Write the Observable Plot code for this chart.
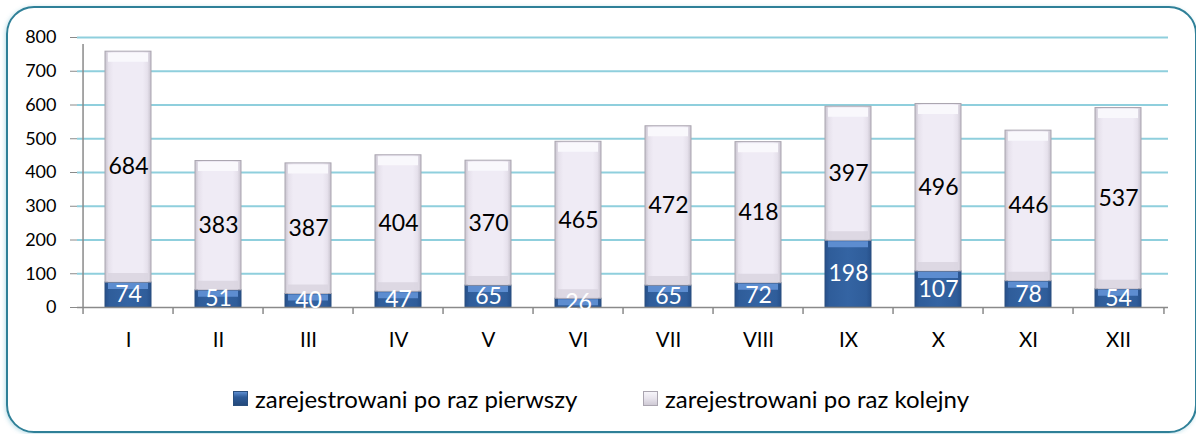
<!DOCTYPE html>
<html>
<head>
<meta charset="utf-8">
<script src="https://cdn.jsdelivr.net/npm/d3@7"></script>
<script src="https://cdn.jsdelivr.net/npm/@observablehq/plot@0.6"></script>
<style>
  html, body { margin: 0; padding: 0; background: #fff; }
  #wrap { position: relative; width: 1196px; height: 434px; overflow: hidden; font-family: Lato, "Open Sans", sans-serif; }
  #frame { position: absolute; left: 6px; top: 6px; width: 1191px; height: 427px; box-sizing: border-box;
           border: 2.5px solid #2f8098; border-radius: 28px; box-shadow: -1px 1px 4px rgba(60,160,190,0.35); }
  #chart { position: absolute; left: 0; top: 0; }
  #legend { position: absolute; top: 384px; left: 0; width: 1196px; height: 28px; }
  .item { position: absolute; top: 0; display: flex; align-items: center; font-size: 24px; color: #000; white-space: nowrap; }
  .sw { width: 15px; height: 15px; margin-right: 7px; box-sizing: border-box; }
</style>
</head>
<body>
<div id="wrap">
  <div id="frame"></div>
  <div id="chart"></div>
  <div id="legend"></div>
</div>
<script>
const months = ["I","II","III","IV","V","VI","VII","VIII","IX","X","XI","XII"];
const seriesNames = ["zarejestrowani po raz pierwszy", "zarejestrowani po raz kolejny"];
const firstTime = [74, 51, 40, 47, 65, 26, 65, 72, 198, 107, 78, 54];
const nextTime = [684, 383, 387, 404, 370, 465, 472, 418, 397, 496, 446, 537];
const yTicks = [0, 100, 200, 300, 400, 500, 600, 700, 800];

const table = [];
months.forEach((m, i) => {
  table.push({month: m, series: seriesNames[0], value: firstTime[i]});
  table.push({month: m, series: seriesNames[1], value: nextTime[i]});
});
const tops = months.map((m, i) => ({month: m, first: firstTime[i], total: firstTime[i] + nextTime[i]}));

const W = 1196, H = 360, mL = 77, mR = 28, mT = 37, mB = 53;
const step = (W - mL - mR) / months.length;

const plot = Plot.plot({
  width: W, height: H,
  marginLeft: mL, marginRight: mR, marginTop: mT, marginBottom: mB,
  style: {fontFamily: "Lato, 'Open Sans', sans-serif", background: "transparent", overflow: "visible"},
  x: {domain: months, paddingInner: 0.49, paddingOuter: 0.245},
  y: {domain: [0, 800]},
  color: {domain: seriesNames, range: ["url(#gBlue)", "url(#gLav)"]},
  marks: [
    Plot.ruleY(yTicks.filter(d => d > 0), {stroke: "#8fcfdd", strokeWidth: 2}),
    Plot.barY(table, Plot.stackY({x: "month", y: "value", fill: "series", order: seriesNames,
      stroke: d => d.series === seriesNames[0] ? "#2a4f7e" : "#aaa5b0", strokeWidth: 1})),
    // bevels
    Plot.tickY(tops, {x: "month", y: "total", stroke: "#f9f8fc", strokeWidth: 9, dy: 5.5, insetLeft: 3, insetRight: 3}),
    Plot.tickY(tops, {x: "month", y: "first", stroke: "#d8d3de", strokeWidth: 9, dy: -5, insetLeft: 3, insetRight: 3, strokeOpacity: 0.8}),
    Plot.tickY(tops, {x: "month", y: "first", stroke: "#5d8dd0", strokeWidth: 6, dy: 3.5, insetLeft: 3, insetRight: 3}),
    // axes lines
    Plot.ruleY([0], {stroke: "#8a8a8a", strokeWidth: 1.5}),
    Plot.ruleX([months[0]], {y1: 0, y2: 800, dx: -step / 2, stroke: "#8a8a8a", strokeWidth: 1.5, insetBottom: -7}),
    Plot.ruleX(months, {y1: 0, y2: 0, dx: -step / 2, stroke: "#8a8a8a", strokeWidth: 1.5, insetBottom: -7}),
    Plot.ruleX([months[months.length - 1]], {y1: 0, y2: 0, dx: step / 2, stroke: "#8a8a8a", strokeWidth: 1.5, insetBottom: -7}),
    Plot.axisY(yTicks, {tickSize: 7, tickPadding: 14, fontSize: 18, stroke: "#8a8a8a", fill: "#000", label: null}),
    Plot.axisX({tickSize: 0, tickPadding: 25, fontSize: 20.5, fill: "#000", label: null}),
    // labels
    Plot.text(table, Plot.stackY({x: "month", y: "value", order: seriesNames, text: "value",
      fill: d => d.series === seriesNames[0] ? "#ffffff" : "#000000", fontSize: 23})),
  ]
});

// gradient definitions
const svg = d3.select(plot);
const defs = svg.insert("defs", ":first-child");
const gb = defs.append("linearGradient").attr("id", "gBlue").attr("x1", 0).attr("x2", 1).attr("y1", 0).attr("y2", 0);
[["0%", "#27508a"], ["10%", "#2f5d9a"], ["50%", "#3464a3"], ["90%", "#2f5d9a"], ["100%", "#27508a"]]
  .forEach(([o, c]) => gb.append("stop").attr("offset", o).attr("stop-color", c));
const gl = defs.append("linearGradient").attr("id", "gLav").attr("x1", 0).attr("x2", 1).attr("y1", 0).attr("y2", 0);
[["0%", "#c7c2cd"], ["8%", "#e6e1ec"], ["18%", "#efebf5"], ["82%", "#efebf5"], ["92%", "#e6e1ec"], ["100%", "#c7c2cd"]]
  .forEach(([o, c]) => gl.append("stop").attr("offset", o).attr("stop-color", c));

document.getElementById("chart").appendChild(plot);

// legend
const legend = document.getElementById("legend");
const legendItems = [
  {name: seriesNames[0], left: 233, bg: "linear-gradient(#5d8dd0, #2d5b98 40%, #24497c)", border: "1px solid #2a4f7e"},
  {name: seriesNames[1], left: 643, bg: "linear-gradient(#f7f5fa, #e7e3ec 50%, #cfcad5)", border: "1px solid #aaa5b0"}
];
legendItems.forEach(it => {
  const d = document.createElement("div");
  d.className = "item";
  d.style.left = it.left + "px";
  const s = document.createElement("div");
  s.className = "sw";
  s.style.background = it.bg;
  s.style.border = it.border;
  const t = document.createElement("span");
  t.textContent = it.name;
  d.appendChild(s); d.appendChild(t);
  legend.appendChild(d);
});
</script>
</body>
</html>
